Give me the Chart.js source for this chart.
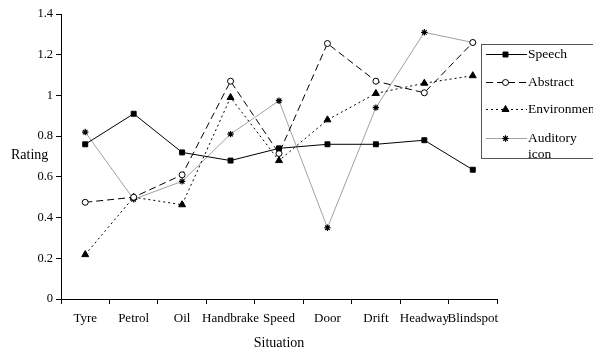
<!DOCTYPE html>
<html>
<head>
<meta charset="utf-8">
<script src="https://cdn.jsdelivr.net/npm/chart.js@4"></script>
<style>
  html, body { margin: 0; padding: 0; background: #fff; }
  #wrap { width: 593px; height: 352px; }
</style>
</head>
<body>
<div id="wrap"><canvas id="grafico" width="593" height="352"></canvas></div>
<script>
const situaciones = ["Tyre", "Petrol", "Oil", "Handbrake", "Speed", "Door", "Drift", "Headway", "Blindspot"];
const speech = [0.76, 0.91, 0.72, 0.68, 0.74, 0.76, 0.76, 0.78, 0.635];
const abstract = [0.475, 0.50, 0.61, 1.07, 0.715, 1.255, 1.07, 1.013, 1.26];
const environment = [0.218, 0.50, 0.463, 0.99, 0.68, 0.88, 1.01, 1.06, 1.097];
const auditory = [0.82, 0.49, 0.578, 0.81, 0.974, 0.35, 0.94, 1.31, 1.26];
const yTicks = [0, 0.2, 0.4, 0.6, 0.8, 1, 1.2, 1.4];
const nombresSeries = ["Speech", "Abstract", "Environment", "Auditory icon"];

const fuente = "'Liberation Serif', 'Times New Roman', serif";

// legend + "Rating" label drawn by hand, Excel style
const leyendaPlugin = {
  id: "leyendaExcel",
  afterDraw(chart) {
    const ctx = chart.ctx;
    ctx.save();
    // Rating label
    ctx.fillStyle = "#000";
    ctx.font = "14px " + fuente;
    ctx.textAlign = "left";
    ctx.textBaseline = "middle";
    ctx.fillText("Rating", 11, 155);

    // legend box (runs off the right edge like the original)
    const bx = 481, by = 44, bw = 200, bh = 114;
    ctx.fillStyle = "#fff";
    ctx.fillRect(bx, by, bw, bh);
    ctx.strokeStyle = "#555";
    ctx.lineWidth = 1;
    ctx.strokeRect(bx + 0.5, by + 0.5, bw, bh);

    const filas = [54, 82, 109, 138];
    chart.data.datasets.forEach(function (ds, i) {
      const y = filas[i];
      ctx.save();
      ctx.strokeStyle = ds.borderColor;
      ctx.lineWidth = ds.borderWidth;
      ctx.setLineDash(ds.borderDash || []);
      ctx.beginPath();
      ctx.moveTo(486, y + 0.5);
      ctx.lineTo(527, y + 0.5);
      ctx.stroke();
      ctx.restore();
      ctx.save();
      ctx.fillStyle = ds.pointBackgroundColor;
      ctx.strokeStyle = ds.pointBorderColor;
      ctx.lineWidth = ds.pointBorderWidth || 1;
      ctx.setLineDash([]);
      Chart.helpers.drawPoint(ctx, {
        pointStyle: ds.pointStyle,
        radius: ds.pointRadius,
        rotation: 0,
        borderWidth: ds.pointBorderWidth || 1,
      }, 505.5, y + 0.5);
      ctx.restore();
      ctx.fillStyle = "#000";
      ctx.font = "13.5px " + fuente;
      ctx.textAlign = "left";
      ctx.textBaseline = "middle";
      if (i === 3) {
        ctx.fillText("Auditory", 528, y);
        ctx.fillText("icon", 528, y + 16);
      } else {
        ctx.fillText(nombresSeries[i], 528, y);
      }
    });
    ctx.restore();
  },
};

new Chart(document.getElementById("grafico"), {
  type: "line",
  data: {
    labels: situaciones,
    datasets: [
      {
        label: nombresSeries[0],
        data: speech,
        borderColor: "#000",
        borderWidth: 1,
        pointStyle: "rect",
        pointRadius: 3.5,
        pointBackgroundColor: "#000",
        pointBorderColor: "#000",
      },
      {
        label: nombresSeries[1],
        data: abstract,
        borderColor: "#000",
        borderWidth: 1,
        borderDash: [7, 4],
        pointStyle: "circle",
        pointRadius: 3,
        pointBackgroundColor: "#fff",
        pointBorderColor: "#000",
      },
      {
        label: nombresSeries[2],
        data: environment,
        borderColor: "#000",
        borderWidth: 1,
        borderDash: [2, 3],
        pointStyle: "triangle",
        pointRadius: 4,
        pointBackgroundColor: "#000",
        pointBorderColor: "#000",
      },
      {
        label: nombresSeries[3],
        data: auditory,
        borderColor: "#a0a0a0",
        borderWidth: 1,
        pointStyle: "star",
        pointRadius: 3.2,
        pointBackgroundColor: "#000",
        pointBorderColor: "#000",
        pointBorderWidth: 1.2,
      },
    ],
  },
  options: {
    responsive: false,
    animation: false,
    tension: 0,
    layout: { padding: { left: 0, top: 14, right: 96, bottom: 0 } },
    plugins: {
      legend: { display: false },
      tooltip: { enabled: false },
    },
    scales: {
      x: {
        offset: true,
        grid: {
          offset: true,
          drawOnChartArea: false,
          color: "#000",
          tickLength: 5,
          tickColor: "#000",
        },
        border: { color: "#000", width: 1 },
        ticks: {
          color: "#000",
          font: { family: fuente, size: 13 },
          padding: 7,
          maxRotation: 0,
          autoSkip: false,
        },
        title: {
          display: true,
          text: "Situation",
          color: "#000",
          font: { family: fuente, size: 14 },
          padding: { top: 4, bottom: 0 },
        },
        afterFit: function (scale) {
          scale.height = 53;
        },
      },
      y: {
        min: 0,
        max: 1.4,
        afterBuildTicks: function (scale) {
          scale.ticks = yTicks.map(function (v) { return { value: v }; });
        },
        grid: {
          drawOnChartArea: false,
          color: "#000",
          tickLength: 5,
          tickColor: "#000",
        },
        border: { color: "#000", width: 1 },
        ticks: {
          color: "#000",
          font: { family: fuente, size: 12.5 },
          padding: 3,
          callback: function (v) { return String(Math.round(v * 10) / 10); },
        },
        afterFit: function (scale) {
          scale.width = 61;
        },
      },
    },
  },
  plugins: [leyendaPlugin],
});
</script>
</body>
</html>
